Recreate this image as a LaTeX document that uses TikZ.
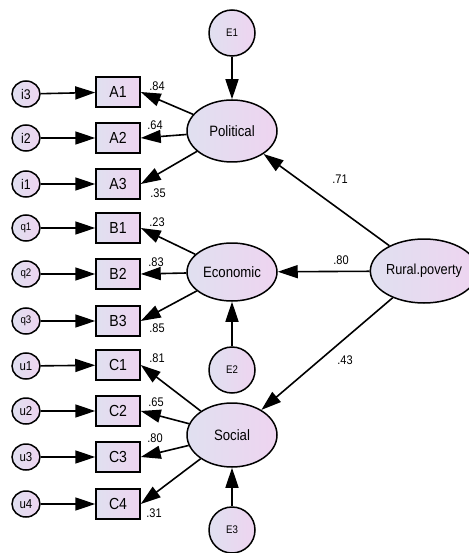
\documentclass[tikz,border=0pt]{standalone}
\usepackage{fontspec}
\setmainfont{Liberation Sans}[FakeStretch=0.88]
\usetikzlibrary{shapes.geometric,arrows.meta}
\definecolor{fillA}{RGB}{224,224,240}
\definecolor{fillB}{RGB}{238,212,240}
\begin{document}
\begin{tikzpicture}[x=1pt,y=-1pt,
  base/.style={draw, line width=1.5pt, left color=fillA, right color=fillB, inner sep=0pt},
  err/.style={base, ellipse, minimum width=28pt, minimum height=26pt, font=\fontsize{14}{14}\selectfont},
  qerr/.style={err, font=\fontsize{11}{11}\selectfont},
  uerr/.style={err, font=\fontsize{13}{13}\selectfont},
  obs/.style={base, rectangle, minimum width=44pt, minimum height=30pt, font=\fontsize{16}{16}\selectfont},
  lat/.style={base, ellipse, minimum width=90pt, minimum height=62pt, font=\fontsize{15}{15}\selectfont},
  dist/.style={base, circle, minimum size=46pt, font=\fontsize{11}{11}\selectfont},
  coef/.style={font=\fontsize{12.5}{12.5}\selectfont, inner sep=0pt},
  conn/.style={line width=1.6pt, -{Triangle[length=20pt,width=13pt]}}
]
\useasboundingbox (0,0) rectangle (468,553);

% error terms
\node[err]  (i3) at (26,94)  {i3};
\node[err]  (i2) at (26,138) {i2};
\node[err]  (i1) at (26,184) {i1};
\node[qerr] (q1) at (26,228) {q1};
\node[qerr] (q2) at (26,274) {q2};
\node[qerr] (q3) at (26,321) {q3};
\node[uerr] (u1) at (26,366) {u1};
\node[uerr] (u2) at (26,411) {u2};
\node[uerr] (u3) at (26,457) {u3};
\node[uerr] (u4) at (26,504) {u4};

% observed
\node[obs] (A1) at (118,92)  {A1};
\node[obs] (A2) at (118,138) {A2};
\node[obs] (A3) at (118,184) {A3};
\node[obs] (B1) at (118,228) {B1};
\node[obs] (B2) at (118,274) {B2};
\node[obs] (B3) at (118,321) {B3};
\node[obs] (C1) at (118,365) {C1};
\node[obs] (C2) at (118,411) {C2};
\node[obs] (C3) at (118,457) {C3};
\node[obs] (C4) at (118,504) {C4};

% latent
\node[lat] (pol) at (232,131) {Political};
\node[lat, minimum height=58pt] (eco) at (232,272) {Economic};
\node[lat, minimum height=64pt] (soc) at (232,435) {Social};
\node[lat, minimum width=86pt, minimum height=64pt, font=\fontsize{14.5}{14.5}\selectfont] (rp) at (424,271) {Rural.poverty};

% disturbances
\node[dist] (E1) at (232,33)  {E1};
\node[dist] (E2) at (232,370) {E2};
\node[dist] (E3) at (232,530) {E3};

% error -> observed
\foreach \e/\o in {i3/A1,i2/A2,i1/A3,q1/B1,q2/B2,q3/B3,u1/C1,u2/C2,u3/C3,u4/C4}
  \draw[conn] (\e) -- (\o);

% latent -> observed
\foreach \o in {A1,A2,A3} \draw[conn] (pol) -- (\o.east);
\foreach \o in {B1,B2,B3} \draw[conn] (eco) -- (\o.east);
\foreach \o in {C1,C2,C3,C4} \draw[conn] (soc) -- (\o.east);

% structural
\draw[conn] (rp) -- (pol);
\draw[conn] (rp) -- (eco);
\draw[conn] (rp) -- (soc);
\draw[conn] (E1) -- (pol);
\draw[conn] (E2) -- (eco);
\draw[conn] (E3) -- (soc);

% coefficients
\node[coef] (c1)  at (157,86)  {.84};
\node[coef] (c2)  at (155,125) {.64};
\node[coef] (c3)  at (158,193) {.35};
\node[coef] (c4)  at (157,222) {.23};
\node[coef] (c5)  at (156,262) {.83};
\node[coef] (c6)  at (157,328) {.85};
\node[coef] (c7)  at (157,358) {.81};
\node[coef] (c8)  at (156,402) {.65};
\node[coef] (c9)  at (155,438) {.80};
\node[coef] (c10) at (154,513) {.31};
\node[coef] (c11) at (340,179) {.71};
\node[coef] (c12) at (341,260) {.80};
\node[coef] (c13) at (345,360) {.43};
\end{tikzpicture}
\end{document}
